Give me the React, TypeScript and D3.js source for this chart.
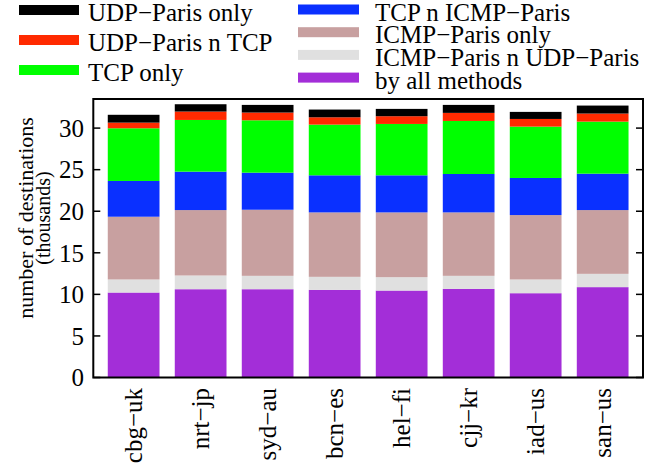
import React from "react";
import * as d3 from "d3";

const categories = ["cbg−uk", "nrt−jp", "syd−au", "bcn−es", "hel−fi", "cjj−kr", "iad−us", "san−us"];
const allMethods = [10.22, 10.62, 10.62, 10.54, 10.46, 10.66, 10.14, 10.87];
const icmpUdp = [1.57, 1.65, 1.61, 1.57, 1.61, 1.57, 1.65, 1.6];
const icmpOnly = [7.55, 7.87, 7.95, 7.75, 7.79, 7.63, 7.75, 7.67];
const tcpIcmp = [4.3, 4.62, 4.46, 4.46, 4.46, 4.62, 4.46, 4.38];
const tcpOnly = [6.34, 6.22, 6.3, 6.1, 6.18, 6.38, 6.18, 6.26];
const udpTcp = [0.68, 1.01, 0.93, 0.88, 0.93, 0.97, 0.92, 0.97];
const udpOnly = [0.94, 0.88, 0.92, 0.93, 0.88, 0.96, 0.85, 0.96];
const yTicks = [0, 5, 10, 15, 20, 25, 30];

const seriesNames = [
  "by all methods",
  "ICMP−Paris n UDP−Paris",
  "ICMP−Paris only",
  "TCP n ICMP−Paris",
  "TCP only",
  "UDP−Paris n TCP",
  "UDP−Paris only",
];
const seriesValues = [allMethods, icmpUdp, icmpOnly, tcpIcmp, tcpOnly, udpTcp, udpOnly];
const colors = ["#a32ed8", "#e0e0e0", "#c8a0a0", "#0a30ff", "#00ff00", "#ff2a00", "#000000"];

const legendOrder = [
  { s: 6, col: 0, row: 0 },
  { s: 5, col: 0, row: 1 },
  { s: 4, col: 0, row: 2 },
  { s: 3, col: 1, row: 0 },
  { s: 2, col: 1, row: 1 },
  { s: 1, col: 1, row: 2 },
  { s: 0, col: 1, row: 3 },
];

const W = 667;
const H = 465;
const ts = (size: number) => ({ fontFamily: '"Liberation Serif"', fontSize: size + "px" });

export default function App() {
  const left = 93.3, right = 643, top = 99, bottom = 377.5;
  const x = d3.scaleBand<string>().domain(categories).range([left, right]).paddingInner(0.228).paddingOuter(0.216);
  const y = d3.scaleLinear().domain([0, 33.5]).range([bottom, top]);

  const table = categories.map((c, i) => {
    const row: any = { cat: c };
    seriesNames.forEach((n, k) => (row[n] = seriesValues[k][i]));
    return row;
  });
  const stacked = d3.stack<any>().keys(seriesNames)(table);

  const legendCols = [
    { sx: 19, sw: 60, tx: 88, y0: 10, dy: 30 },
    { sx: 298, sw: 61, tx: 375, y0: 9.5, dy: 22.7 },
  ];

  return (
    <svg width={W} height={H} style={{ position: "absolute", left: 0, top: 0, background: "#fff" }}>
      {stacked.map((layer, k) => (
        <g key={k} fill={colors[k]}>
          {layer.map((d, i) => (
            <rect
              key={i}
              x={x(categories[i])}
              width={x.bandwidth()}
              y={y(d[1])}
              height={y(d[0]) - y(d[1])}
            />
          ))}
        </g>
      ))}
      <rect x={left} y={top} width={right - left} height={bottom - top} fill="none" stroke="#000" strokeWidth={2} />
      {yTicks.map((t) => (
        <g key={t}>
          <line x1={left} x2={left + 7} y1={y(t)} y2={y(t)} stroke="#000" strokeWidth={1.5} />
          <line x1={right - 7} x2={right} y1={y(t)} y2={y(t)} stroke="#000" strokeWidth={1.5} />
          <text x={84} y={y(t)} dy="0.35em" textAnchor="end" style={ts(25)}>
            {t}
          </text>
        </g>
      ))}
      {categories.map((c) => (
        <text
          key={c}
          transform={`translate(${(x(c) as number) + x.bandwidth() / 2},${388}) rotate(-90)`}
          textAnchor="end"
          dy="0.35em"
          style={ts(25)}
        >
          {c}
        </text>
      ))}
      <g transform={`translate(25,218) rotate(-90)`}>
        <text textAnchor="middle" dy="0.35em" style={ts(22)}>
          number of destinations
        </text>
        <text textAnchor="middle" dy="0.35em" y={18} style={ts(20)}>
          (thousands)
        </text>
      </g>
      {legendOrder.map(({ s, col, row }) => {
        const L = legendCols[col];
        const cy = L.y0 + row * L.dy;
        return (
          <g key={s}>
            <rect x={L.sx} y={cy - 5} width={L.sw} height={10} fill={colors[s]} />
            <text x={L.tx} y={cy + 11} style={ts(25)}>
              {seriesNames[s]}
            </text>
          </g>
        );
      })}
    </svg>
  );
}
